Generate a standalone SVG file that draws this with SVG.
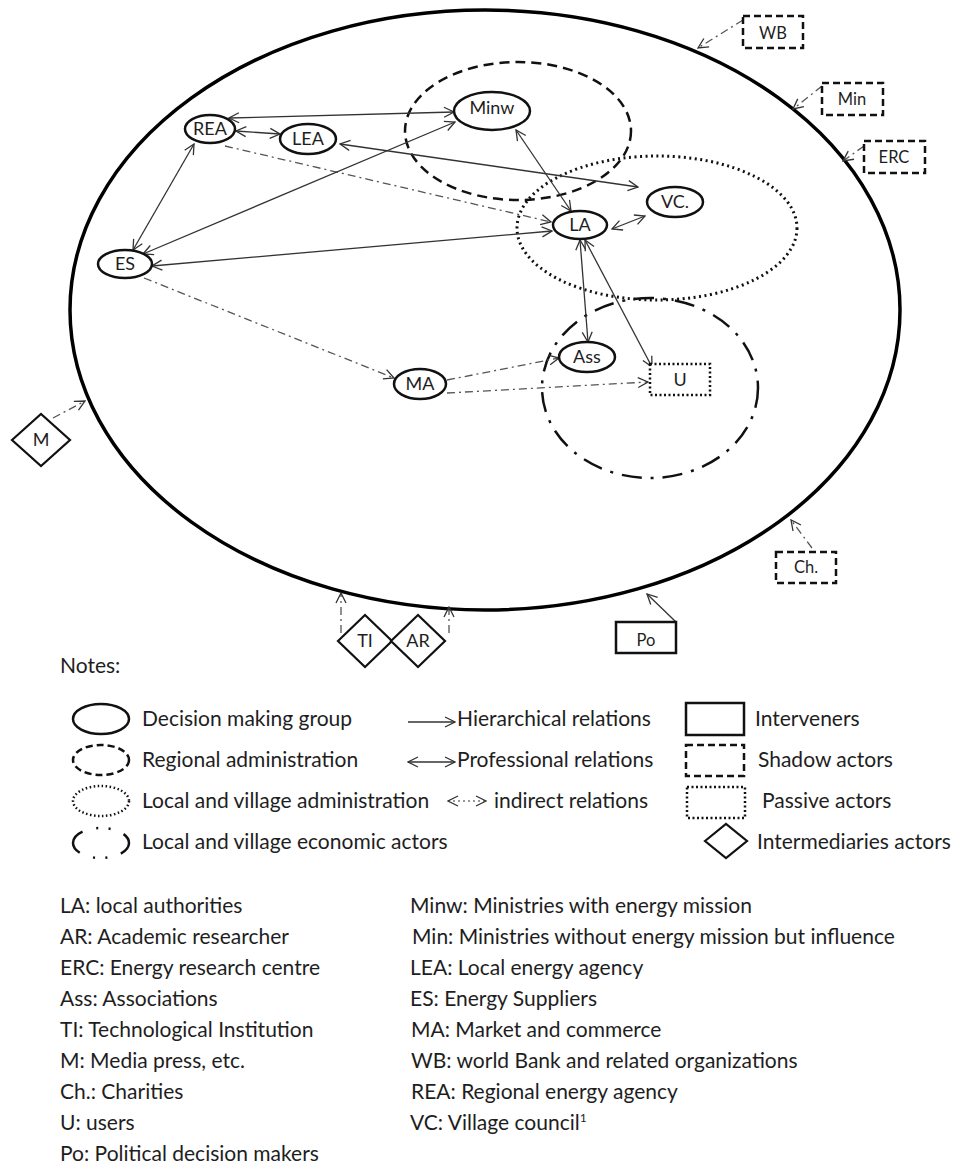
<svg xmlns="http://www.w3.org/2000/svg" width="960" height="1165" viewBox="0 0 960 1165">
  <style>
    text { font-family: Lato, "Liberation Sans", sans-serif; fill: #1e1e1e; }
    .lbl { font-size: 18px; text-anchor: middle; }
    .lbl-s { font-size: 16.5px; text-anchor: middle; }
    .leg { font-size: 21px; }
    .node { fill: #fff; stroke: #111; stroke-width: 2.5; }
    .boundary { fill: none; stroke: #000; stroke-width: 3.5; }
    .grp-reg { fill: none; stroke: #111; stroke-width: 2.5; stroke-dasharray: 10 6; }
    .grp-loc { fill: none; stroke: #111; stroke-width: 3; stroke-dasharray: 2 3.5; }
    .grp-eco { fill: none; stroke: #111; stroke-width: 2.5; stroke-dasharray: 20 9 3 9; }
    .box-solid { fill: #fff; stroke: #111; stroke-width: 2.5; }
    .box-dash { fill: #fff; stroke: #111; stroke-width: 2.5; stroke-dasharray: 7 4; }
    .box-dot { fill: #fff; stroke: #111; stroke-width: 2.5; stroke-dasharray: 2 2.5; }
    .diamond { fill: #fff; stroke: #111; stroke-width: 2.2; }
    .rel { fill: none; stroke: #333; stroke-width: 1.3; }
    .ind { fill: none; stroke: #555; stroke-width: 1.3; stroke-dasharray: 8 4 2 4; }
    .one { marker-end: url(#ah); }
    .two { marker-start: url(#ah); marker-end: url(#ah); }
  </style>
  <defs>
    <marker id="ah" viewBox="0 0 12 12" refX="11" refY="6" markerWidth="12" markerHeight="12" orient="auto-start-reverse" markerUnits="userSpaceOnUse">
      <path d="M1,1 L11,6 L1,11" fill="none" stroke="#333" stroke-width="1.3" stroke-dasharray="none"/>
    </marker>
  </defs>

  <!-- system boundary and actor groups -->
  <g id="boundary">
    <ellipse class="boundary" cx="485" cy="310" rx="415" ry="300"/>
  </g>
  <g id="groups">
    <ellipse id="regional-admin" class="grp-reg" cx="518" cy="131" rx="113" ry="69"/>
    <ellipse id="local-admin" class="grp-loc" cx="657" cy="228" rx="140" ry="72"/>
    <ellipse id="economic-actors" class="grp-eco" cx="650" cy="388" rx="108" ry="90"/>
  </g>

  <!-- relations -->
  <g id="connectors">
    <line class="rel two" x1="229" y1="118" x2="454" y2="112"/>
    <line class="rel two" x1="236" y1="131" x2="280" y2="134"/>
    <line class="rel two" x1="340" y1="144" x2="638" y2="187"/>
    <line class="rel two" x1="516" y1="130" x2="571" y2="211"/>
    <line class="ind one" x1="225" y1="146" x2="551" y2="222"/>
    <line class="rel two" x1="194" y1="144" x2="133" y2="250"/>
    <line class="rel two" x1="143" y1="254" x2="455" y2="122"/>
    <line class="rel two" x1="152" y1="266" x2="552" y2="231"/>
    <line class="rel two" x1="612" y1="229" x2="645" y2="216"/>
    <line class="rel two" x1="580" y1="240" x2="588" y2="342"/>
    <line class="rel two" x1="585" y1="240" x2="652" y2="367"/>
    <line class="ind one" x1="144" y1="278" x2="394" y2="378"/>
    <line class="ind one" x1="447" y1="380" x2="559" y2="358"/>
    <line class="ind one" x1="447" y1="393" x2="648" y2="382"/>
    <line class="ind one" x1="743" y1="20" x2="698" y2="48"/>
    <line class="ind one" x1="822" y1="86" x2="793" y2="109"/>
    <line class="ind one" x1="864" y1="146" x2="843" y2="161"/>
    <line class="ind one" x1="812" y1="548" x2="791" y2="520"/>
    <line class="rel one" x1="676" y1="622" x2="647" y2="594"/>
    <line class="ind one" x1="53" y1="418" x2="85" y2="401"/>
    <line class="ind one" x1="341" y1="633" x2="341" y2="593"/>
    <line class="ind one" x1="449" y1="633" x2="449" y2="607"/>
  </g>

  <!-- decision making group -->
  <g id="REA"><ellipse class="node" cx="210" cy="129" rx="25" ry="14"/><text class="lbl" x="210" y="135">REA</text></g>
  <g id="LEA"><ellipse class="node" cx="308" cy="139" rx="28" ry="15"/><text class="lbl" x="308" y="145">LEA</text></g>
  <g id="Minw"><ellipse class="node" cx="492" cy="111" rx="38" ry="19"/><text class="lbl" x="492" y="114">Minw</text></g>
  <g id="ES"><ellipse class="node" cx="125" cy="264" rx="27" ry="14"/><text class="lbl" x="125" y="270">ES</text></g>
  <g id="LA"><ellipse class="node" cx="580" cy="225" rx="27" ry="14"/><text class="lbl" x="580" y="231">LA</text></g>
  <g id="VC"><ellipse class="node" cx="675" cy="202" rx="28" ry="15"/><text class="lbl" x="675" y="208">VC.</text></g>
  <g id="Ass"><ellipse class="node" cx="587" cy="357" rx="28" ry="15"/><text class="lbl" x="587" y="363">Ass</text></g>
  <g id="MA"><ellipse class="node" cx="420" cy="384" rx="26" ry="15"/><text class="lbl" x="420" y="390">MA</text></g>
  <g id="U"><rect class="box-dot" x="650" y="364" width="60" height="31"/><text class="lbl" x="680" y="386">U</text></g>

  <!-- actors outside the boundary -->
  <g id="WB"><rect class="box-dash" x="743" y="16" width="60" height="32"/><text class="lbl-s" x="773" y="39">WB</text></g>
  <g id="Min"><rect class="box-dash" x="822" y="83" width="61" height="32"/><text class="lbl-s" x="852" y="105">Min</text></g>
  <g id="ERC"><rect class="box-dash" x="864" y="141" width="61" height="32"/><text class="lbl-s" x="894" y="163">ERC</text></g>
  <g id="Ch"><rect class="box-dash" x="776" y="552" width="60" height="31"/><text class="lbl-s" x="806" y="573">Ch.</text></g>
  <g id="Po"><rect class="box-solid" x="616" y="622" width="60" height="31"/><text class="lbl-s" x="646" y="646">Po</text></g>
  <g id="M"><polygon class="diamond" points="12,440 41,414 70,440 41,466"/><text class="lbl" x="41" y="446">M</text></g>
  <g id="TI"><polygon class="diamond" points="338,641 365,615 392,641 365,667"/><text class="lbl" x="365" y="647">TI</text></g>
  <g id="AR"><polygon class="diamond" points="391,641 418,615 445,641 418,667"/><text class="lbl" x="418" y="647">AR</text></g>

  <!-- key -->
  <g id="legend">
    <text class="leg" x="60" y="673">Notes:</text>
    <ellipse class="node" cx="101" cy="719" rx="28" ry="15"/>
    <text class="leg" x="142" y="726">Decision making group</text>
    <ellipse class="grp-reg" cx="101" cy="760" rx="28" ry="15" style="stroke-dasharray:7 4"/>
    <text class="leg" x="142" y="767">Regional administration</text>
    <ellipse class="grp-loc" cx="101" cy="801" rx="28" ry="15" style="stroke-width:2.5;stroke-dasharray:1.5 2.5"/>
    <text class="leg" x="142" y="808">Local and village administration</text>
    <ellipse class="grp-eco" cx="101" cy="843" rx="28" ry="15" style="stroke-dasharray:28 14 2 10.5 2 14;stroke-dashoffset:14"/>
    <text class="leg" x="142" y="849">Local and village economic actors</text>

    <line class="rel one" x1="408" y1="722" x2="455" y2="722"/>
    <text class="leg" x="457" y="726">Hierarchical relations</text>
    <line class="rel two" x1="408" y1="762" x2="455" y2="762"/>
    <text class="leg" x="457" y="767">Professional relations</text>
    <line class="rel two" x1="448" y1="801" x2="486" y2="801" style="stroke:#777;stroke-dasharray:2 3"/>
    <text class="leg" x="494" y="808">indirect relations</text>

    <rect class="box-solid" x="686" y="703" width="58" height="32"/>
    <text class="leg" x="755" y="726">Interveners</text>
    <rect class="box-dash" x="686" y="745" width="58" height="31"/>
    <text class="leg" x="758" y="767">Shadow actors</text>
    <rect class="box-dot" x="687" y="787" width="58" height="31"/>
    <text class="leg" x="762" y="808">Passive actors</text>
    <polygon class="diamond" points="705,841 726,824 747,841 726,858"/>
    <text class="leg" x="757" y="849">Intermediaries actors</text>
  </g>

  <g id="abbreviations">
    <text class="leg" x="60" y="913">LA: local authorities</text>
    <text class="leg" x="60" y="944">AR: Academic researcher</text>
    <text class="leg" x="60" y="975">ERC: Energy research centre</text>
    <text class="leg" x="60" y="1006">Ass: Associations</text>
    <text class="leg" x="60" y="1037">TI: Technological Institution</text>
    <text class="leg" x="60" y="1068">M: Media press, etc.</text>
    <text class="leg" x="60" y="1099">Ch.: Charities</text>
    <text class="leg" x="60" y="1130">U: users</text>
    <text class="leg" x="60" y="1161">Po: Political decision makers</text>

    <text class="leg" x="410" y="913">Minw: Ministries with energy mission</text>
    <text class="leg" x="412" y="944">Min: Ministries without energy mission but influence</text>
    <text class="leg" x="410" y="975">LEA: Local energy agency</text>
    <text class="leg" x="410" y="1006">ES: Energy Suppliers</text>
    <text class="leg" x="411" y="1037">MA: Market and commerce</text>
    <text class="leg" x="411" y="1068">WB: world Bank and related organizations</text>
    <text class="leg" x="411" y="1099">REA: Regional energy agency</text>
    <text class="leg" x="410" y="1130">VC: Village council<tspan dy="-8" style="font-size:12px">1</tspan></text>
  </g>
</svg>
